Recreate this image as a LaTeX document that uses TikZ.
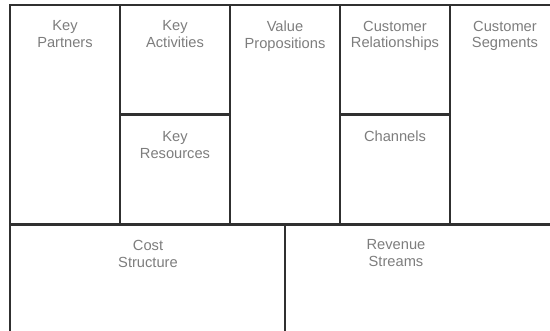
\documentclass[tikz,border=0pt]{standalone}
\usepackage{fontspec}
\setmainfont{Liberation Sans}
\definecolor{gridline}{RGB}{48,48,48}
\definecolor{labeltext}{RGB}{125,125,125}

\begin{document}
\begin{tikzpicture}[x=0.75pt,y=0.75pt,yscale=-1,xscale=1,
  cell/.style={draw=gridline,line width=1.6pt},
  blocklabel/.style={anchor=north,inner sep=0.75pt,align=center,text=labeltext,
    font=\fontsize{11}{12.6}\selectfont}]
\useasboundingbox (0,0) rectangle (550,331);
\clip (0,0) rectangle (550,331);

%Shape: Rectangle [canvas frame, runs past the right and bottom edges]
\draw [cell] (10,5) rectangle (560,345) ;
%Straight Lines [top row / bottom row]
\draw [cell] (10,224.5) -- (560,224.5) ;
%Straight Lines [columns]
\draw [cell] (120,5) -- (120,224.5) ;
\draw [cell] (230,5) -- (230,224.5) ;
\draw [cell] (340,5) -- (340,224.5) ;
\draw [cell] (450,5) -- (450,224.5) ;
%Straight Lines [split cells]
\draw [cell] (120,114.5) -- (230,114.5) ;
\draw [cell] (340,114.5) -- (450,114.5) ;
%Straight Lines [bottom split]
\draw [cell] (285,224.5) -- (285,345) ;

% Text Node
\node [blocklabel] (kp) at (65,19.5) {Key\\Partners};
% Text Node
\node [blocklabel] (ka) at (175,19.5) {Key\\Activities};
% Text Node
\node [blocklabel] (kr) at (175,130) {Key\\Resources};
% Text Node
\node [blocklabel] (vp) at (285,19.5) {Value\\Propositions};
% Text Node
\node [blocklabel] (cr) at (395,19.5) {Customer\\Relationships};
% Text Node
\node [blocklabel] (ch) at (395,129.5) {Channels};
% Text Node
\node [blocklabel] (cs) at (505,19.5) {Customer\\Segments};
% Text Node
\node [blocklabel] (cost) at (148,239) {Cost\\Structure};
% Text Node
\node [blocklabel] (rev) at (396,238.5) {Revenue\\Streams};

\end{tikzpicture}
\end{document}
